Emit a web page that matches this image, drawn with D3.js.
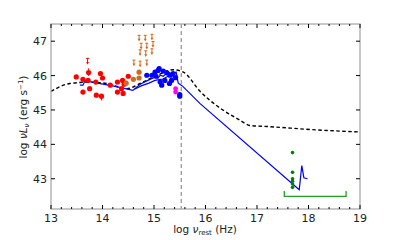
<!DOCTYPE html>
<html>
<head>
<meta charset="utf-8">
<script src="https://cdn.jsdelivr.net/npm/d3@7"></script>
<style>
  body { margin: 0; background: #fff; }
  text { font-family: "DejaVu Sans", sans-serif; }
</style>
</head>
<body>
<div id="chart"></div>
<script>
// data (log nu_rest, log nuL_nu)
var redX = [13.49, 13.62, 13.62, 13.72, 13.73, 13.75, 13.87, 13.88, 13.96, 14.00, 13.98, 14.15, 14.29, 14.29, 14.39, 14.40, 14.42, 14.50, 14.37];
var redY = [45.96, 45.89, 45.52, 45.86, 46.09, 45.62, 45.81, 45.43, 46.06, 45.93, 45.40, 45.72, 45.81, 45.52, 45.86, 45.48, 45.75, 45.98, 45.62];
var redUlX = [13.71];
var redUlY = [46.50];

var orX = [14.46, 14.60, 14.71, 14.71];
var orY = [45.78, 45.89, 45.93, 46.10];
var orUlX = [14.71, 14.83, 14.96, 14.75, 14.86, 14.98, 14.73, 14.84, 14.96, 14.61, 14.73, 14.86];
var orUlY = [47.17, 47.17, 47.20, 46.94, 46.94, 46.99, 46.75, 46.72, 46.78, 46.45, 46.42, 46.45];

var blueX = [14.86, 14.96, 15.04, 15.02, 15.10, 15.18, 15.25, 15.31, 15.37, 15.42, 15.12, 15.21, 15.30, 15.15, 15.34, 15.08, 15.50, 15.50];
var blueY = [46.01, 46.01, 45.98, 46.10, 46.20, 46.13, 46.08, 46.01, 46.06, 45.94, 45.81, 45.86, 45.77, 45.72, 45.86, 46.15, 45.45, 45.40];
var magX = [15.42, 15.42];
var magY = [45.62, 45.52];

var xrayX = [17.69, 17.69, 17.69, 17.69, 17.69, 17.69];
var xrayY = [43.76, 43.19, 43.00, 42.93, 42.85, 42.75];
var bracketX = [17.53, 18.73];
var bracketY = [42.49, 42.64];

var tmplX = [13.0, 13.37, 13.76, 14.08, 14.47, 14.73, 15.05, 15.37, 15.57, 15.89, 16.67, 16.86, 17.19, 18.16, 19.0];
var tmplY = [45.54, 45.77, 45.81, 45.77, 45.62, 45.77, 46.00, 46.17, 46.10, 45.55, 44.70, 44.55, 44.52, 44.42, 44.36];

var fitX = [13.56, 13.62, 13.66, 13.90, 14.20, 14.59, 14.73, 14.88, 15.02, 15.08, 15.12, 15.18, 15.27, 15.35, 15.43, 15.47, 15.55, 15.89, 17.82, 17.87, 17.91, 17.98];
var fitY = [45.72, 45.72, 45.85, 45.78, 45.70, 45.57, 45.75, 45.86, 45.95, 45.93, 46.01, 45.98, 46.10, 46.05, 46.10, 45.78, 45.70, 45.19, 42.68, 43.38, 43.03, 43.00];
var fit2X = [14.62, 14.75, 14.90, 15.02, 15.10, 15.18, 15.27, 15.35, 15.45];
var fit2Y = [45.60, 45.70, 45.78, 45.86, 45.88, 45.90, 45.98, 45.96, 45.98];

var lymanX = 15.53;
var xTicks = [13, 14, 15, 16, 17, 18, 19];
var yTicks = [43, 44, 45, 46, 47];

// drawing params
const width = 400, height = 240,
    mLeft = 51, mRight = 360, mTop = 24, mBottom = 209;

var svg = d3.select("#chart").append("svg")
    .attr("width", width)
    .attr("height", height);

var x = d3.scaleLinear().domain([13, 19]).range([mLeft, mRight]);
var y = d3.scaleLinear().domain([42.12, 47.5]).range([mBottom, mTop]);

function zip(a, b) { return a.map(function(v, i) { return [v, b[i]]; }); }

// clip for data
svg.append("clipPath").attr("id", "clip")
    .append("rect").attr("x", mLeft).attr("y", mTop)
    .attr("width", mRight - mLeft).attr("height", mBottom - mTop);

var plot = svg.append("g").attr("clip-path", "url(#clip)");

// lyman line
plot.append("line")
    .attr("x1", x(lymanX)).attr("x2", x(lymanX))
    .attr("y1", mTop).attr("y2", mBottom)
    .attr("stroke", "#999").attr("stroke-width", 1.3)
    .attr("stroke-dasharray", "4,3");

var line = d3.line()
    .x(function(d) { return x(d[0]); })
    .y(function(d) { return y(d[1]); });

// template SED
plot.append("path")
    .datum(zip(tmplX, tmplY))
    .attr("fill", "none").attr("stroke", "#000")
    .attr("stroke-width", 1.4).attr("stroke-dasharray", "3.5,2.5")
    .attr("d", line.curve(d3.curveMonotoneX));

line.curve(d3.curveLinear);

// fit lines
plot.append("path").datum(zip(fitX, fitY))
    .attr("fill", "none").attr("stroke", "#0000ff").attr("stroke-width", 1.2)
    .attr("d", line);
plot.append("path").datum(zip(fit2X, fit2Y))
    .attr("fill", "none").attr("stroke", "#0000ff").attr("stroke-width", 1.2)
    .attr("d", line);

// points
function dots(xs, ys, color, r) {
    plot.append("g").selectAll("circle")
        .data(zip(xs, ys)).enter().append("circle")
        .attr("cx", function(d) { return x(d[0]); })
        .attr("cy", function(d) { return y(d[1]); })
        .attr("r", r).attr("fill", color);
}

// upper limits: cap + downward arrow
function uplims(xs, ys, color) {
    var g = plot.append("g").attr("stroke", color).attr("stroke-width", 1).attr("fill", color);
    zip(xs, ys).forEach(function(d) {
        var cx = x(d[0]), cy = y(d[1]);
        g.append("line").attr("x1", cx - 1.5).attr("x2", cx + 1.5).attr("y1", cy).attr("y2", cy);
        g.append("line").attr("x1", cx).attr("x2", cx).attr("y1", cy).attr("y2", cy + 4);
        g.append("path").attr("stroke", "none")
            .attr("d", "M" + (cx - 1.5) + "," + (cy + 3.5) + "L" + (cx + 1.5) + "," + (cy + 3.5) + "L" + cx + "," + (cy + 6.2) + "Z");
    });
}

uplims(orUlX, orUlY, "#d2691e");
uplims(redUlX, redUlY, "#ff0000");

// small error bars on a couple of red points
plot.append("line").attr("stroke", "#ff0000").attr("stroke-width", 1)
    .attr("x1", x(redX[4])).attr("x2", x(redX[4])).attr("y1", y(redY[4] + 0.12)).attr("y2", y(redY[4] - 0.1));
plot.append("line").attr("stroke", "#ff0000").attr("stroke-width", 1)
    .attr("x1", x(redX[10])).attr("x2", x(redX[10])).attr("y1", y(redY[10])).attr("y2", y(redY[10] - 0.12));

dots(redX, redY, "#ff0000", 2.6);
dots(orX, orY, "#d2691e", 2.6);
dots(blueX, blueY, "#0000ff", 2.6);
dots(magX, magY, "#ff00ff", 2.4);
dots(xrayX, xrayY, "#008000", 1.8);

// x-ray band bracket
plot.append("path")
    .attr("fill", "none").attr("stroke", "#22a022").attr("stroke-width", 1.3)
    .attr("d", "M" + x(bracketX[0]) + "," + y(bracketY[1]) +
               "L" + x(bracketX[0]) + "," + y(bracketY[0]) +
               "L" + x(bracketX[1]) + "," + y(bracketY[0]) +
               "L" + x(bracketX[1]) + "," + y(bracketY[1]));

// frame
svg.append("rect")
    .attr("x", mLeft).attr("y", mTop)
    .attr("width", mRight - mLeft).attr("height", mBottom - mTop)
    .attr("fill", "none").attr("stroke", "#aaa").attr("stroke-width", 1.3);

// ticks (inward)
var minor = d3.range(13, 19.001, 0.2);
var tg = svg.append("g").attr("stroke", "#000").attr("stroke-width", 1);
minor.forEach(function(v) {
    var major = Math.abs(v - Math.round(v)) < 1e-6;
    var len = major ? 4 : 2;
    tg.append("line").attr("x1", x(v)).attr("x2", x(v)).attr("y1", mBottom).attr("y2", mBottom - len);
    tg.append("line").attr("x1", x(v)).attr("x2", x(v)).attr("y1", mTop).attr("y2", mTop + len);
});
yTicks.forEach(function(v) {
    tg.append("line").attr("x1", mLeft).attr("x2", mLeft + 4).attr("y1", y(v)).attr("y2", y(v));
    tg.append("line").attr("x1", mRight).attr("x2", mRight - 4).attr("y1", y(v)).attr("y2", y(v));
});

// tick labels
svg.append("g").selectAll("text").data(xTicks).enter().append("text")
    .attr("x", function(d) { return x(d); }).attr("y", mBottom + 13)
    .attr("text-anchor", "middle").attr("font-size", 11).attr("fill", "#222")
    .text(function(d) { return d; });
svg.append("g").selectAll("text").data(yTicks).enter().append("text")
    .attr("x", mLeft - 4).attr("y", function(d) { return y(d) + 4; })
    .attr("text-anchor", "end").attr("font-size", 11).attr("fill", "#222")
    .text(function(d) { return d; });

// axis labels
var xl = svg.append("text").attr("x", 205).attr("y", 233)
    .attr("text-anchor", "middle").attr("font-size", 10.5).attr("fill", "#222");
xl.append("tspan").text("log ");
xl.append("tspan").attr("font-style", "italic").text("ν");
xl.append("tspan").attr("font-size", 7).attr("dy", 2).text("rest");
xl.append("tspan").attr("dy", -2).text(" (Hz)");

var yl = svg.append("text")
    .attr("transform", "translate(27," + 117 + ") rotate(-90)")
    .attr("text-anchor", "middle").attr("font-size", 10.5).attr("fill", "#222");
yl.append("tspan").text("log ");
yl.append("tspan").attr("font-style", "italic").text("νL");
yl.append("tspan").attr("font-style", "italic").attr("font-size", 7).attr("dy", 2).text("ν");
yl.append("tspan").attr("dy", -2).text(" (erg s");
yl.append("tspan").attr("font-size", 7).attr("dy", -4).text("−1");
yl.append("tspan").attr("dy", 4).text(")");
</script>
</body>
</html>
